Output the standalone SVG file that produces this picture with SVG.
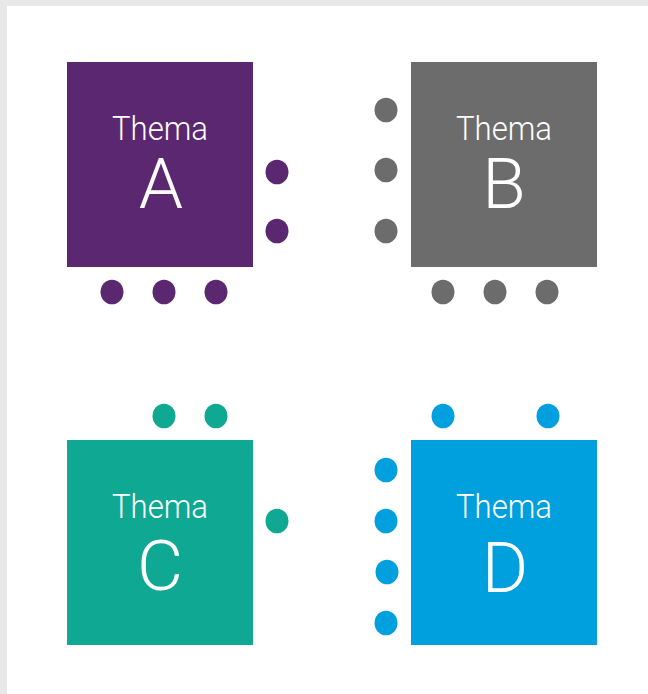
<svg xmlns="http://www.w3.org/2000/svg" width="648" height="694" viewBox="0 0 648 694">
<style>
.t{font-family:Roboto,"Open Sans","Liberation Sans",sans-serif;font-weight:300;fill:#ffffff;text-anchor:middle}
.w{font-size:34px}
.l{font-size:71px}
.a{fill:#5b2770}.b{fill:#6d6c6c}.c{fill:#0ea893}.d{fill:#00a0de}
</style>
<rect x="0" y="0" width="648" height="694" fill="#ffffff"/>
<rect x="0" y="0" width="648" height="6" fill="#e8e8e8"/>
<rect x="0" y="0" width="7" height="694" fill="#e8e8e8"/>
<g id="themaA">
<rect class="a" x="67" y="62" width="186" height="205"/>
<text class="t w" x="160" y="140" textLength="96" lengthAdjust="spacingAndGlyphs">Thema</text>
<text class="t l" x="161" y="208">A</text>
<ellipse class="a" cx="277" cy="172" rx="11.5" ry="12.3"/>
<ellipse class="a" cx="277" cy="231" rx="11.5" ry="12.3"/>
<ellipse class="a" cx="112" cy="292" rx="11.5" ry="12.3"/>
<ellipse class="a" cx="164" cy="292" rx="11.5" ry="12.3"/>
<ellipse class="a" cx="216" cy="292" rx="11.5" ry="12.3"/>
</g>
<g id="themaB">
<rect class="b" x="411" y="62" width="186" height="205"/>
<text class="t w" x="504" y="140" textLength="96" lengthAdjust="spacingAndGlyphs">Thema</text>
<text class="t l" x="504" y="208">B</text>
<ellipse class="b" cx="386" cy="110" rx="11.5" ry="12.3"/>
<ellipse class="b" cx="386" cy="170" rx="11.5" ry="12.3"/>
<ellipse class="b" cx="386" cy="231" rx="11.5" ry="12.3"/>
<ellipse class="b" cx="443" cy="292" rx="11.5" ry="12.3"/>
<ellipse class="b" cx="495" cy="292" rx="11.5" ry="12.3"/>
<ellipse class="b" cx="547" cy="292" rx="11.5" ry="12.3"/>
</g>
<g id="themaC">
<rect class="c" x="67" y="440" width="186" height="205"/>
<text class="t w" x="160" y="518" textLength="96" lengthAdjust="spacingAndGlyphs">Thema</text>
<text class="t l" x="160" y="590">C</text>
<ellipse class="c" cx="164" cy="416" rx="11.5" ry="12.3"/>
<ellipse class="c" cx="216" cy="416" rx="11.5" ry="12.3"/>
<ellipse class="c" cx="277" cy="521" rx="11.5" ry="12.3"/>
</g>
<g id="themaD">
<rect class="d" x="411" y="440" width="186" height="205"/>
<text class="t w" x="504" y="518" textLength="96" lengthAdjust="spacingAndGlyphs">Thema</text>
<text class="t l" x="505" y="592">D</text>
<ellipse class="d" cx="443" cy="416" rx="11.5" ry="12.3"/>
<ellipse class="d" cx="548" cy="416" rx="11.5" ry="12.3"/>
<ellipse class="d" cx="386" cy="470" rx="11.5" ry="12.3"/>
<ellipse class="d" cx="386" cy="521" rx="11.5" ry="12.3"/>
<ellipse class="d" cx="387" cy="572" rx="11.5" ry="12.3"/>
<ellipse class="d" cx="386" cy="623" rx="11.5" ry="12.3"/>
</g>
</svg>
